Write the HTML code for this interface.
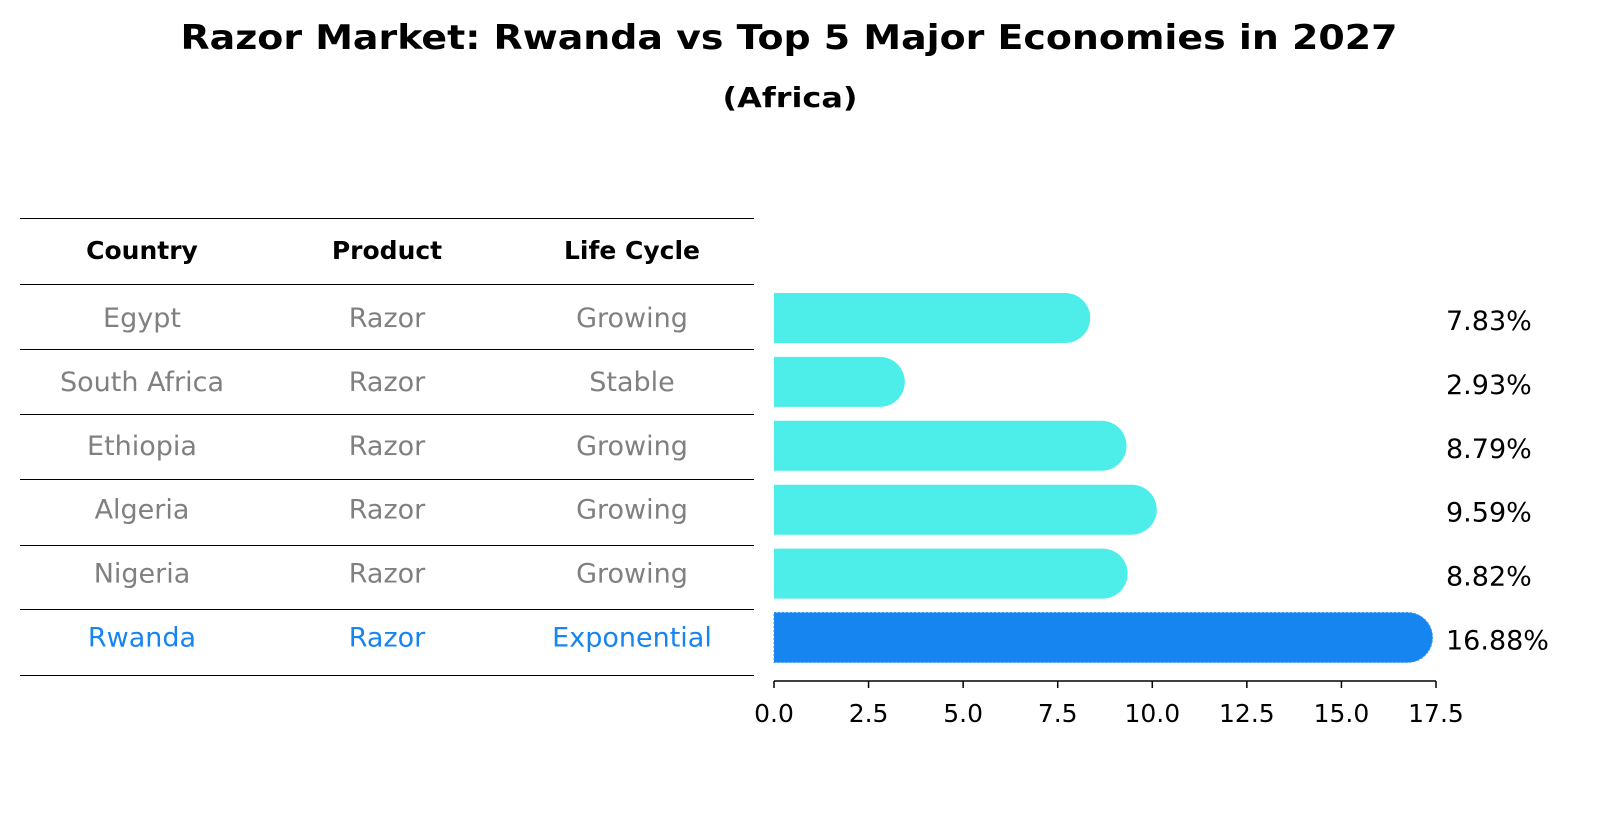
<!DOCTYPE html>
<html><head><meta charset="utf-8"><style>
body{margin:0;background:#fff;}
svg{display:block;font-family:"DejaVu Sans","Liberation Sans",sans-serif;}
</style></head><body>
<svg id="chart" width="1604" height="823" viewBox="0 0 1604 823">
<text x="789" y="49" text-anchor="middle" font-size="34" font-weight="bold" textLength="1217" lengthAdjust="spacingAndGlyphs">Razor Market: Rwanda vs Top 5 Major Economies in 2027</text>
<text x="790" y="107" text-anchor="middle" font-size="28" font-weight="bold" textLength="135" lengthAdjust="spacingAndGlyphs">(Africa)</text>
<g id="table"></g>
<g id="bars"></g>
<g id="axis"></g>
</svg>
<script>
const countries=["Egypt","South Africa","Ethiopia","Algeria","Nigeria","Rwanda"];
const products=["Razor","Razor","Razor","Razor","Razor","Razor"];
const lifeCycles=["Growing","Stable","Growing","Growing","Growing","Exponential"];
const values=[7.83,2.93,8.79,9.59,8.82,16.88];
const ticks=[0,2.5,5,7.5,10,12.5,15,17.5];
const NS="http://www.w3.org/2000/svg";
function mk(tag,attrs,parent,text){const e=document.createElementNS(NS,tag);for(const k in attrs)e.setAttribute(k,attrs[k]);if(text!==undefined)e.textContent=text;parent.appendChild(e);return e;}
const x0=774,pxPer=(1436-774)/17.5;
const xs=v=>x0+v*pxPer;
const rowY=i=>318+i*63.9;
const tbl=document.getElementById('table'),bars=document.getElementById('bars'),axis=document.getElementById('axis');
const lines=[218,284,349,414,479,545,609,675];
lines.forEach((y,i)=>{const l=mk('line',{x1:20,x2:754,y1:y+0.5,y2:y+0.5,stroke:'#000','stroke-width':1,'shape-rendering':'crispEdges'},tbl);

});
const colX=[142,387,632];
["Country","Product","Life Cycle"].forEach((h,j)=>{const t=mk('text',{x:colX[j],y:259,'text-anchor':'middle','font-size':25,'font-weight':'bold'},tbl,h);

});
countries.forEach((c,i)=>{
 const last=i===countries.length-1;const col=last?'#1685f0':'#808080';const y=rowY(i)+6;
 [c,products[i],lifeCycles[i]].forEach((s,j)=>{const t=mk('text',{x:colX[j],y:y+3,'text-anchor':'middle','font-size':27,fill:col},tbl,s);
 
 });
 const h=50,r=25,cy=rowY(i),xe=xs(values[i]);
 const p=mk('path',{d:`M${x0},${cy-h/2} H${xe-5} A${r},${r} 0 0 1 ${xe-5},${cy+h/2} H${x0} Z`,fill:last?'#1685f0':'#4deeea',stroke:last?'#3a9cf5':'none','stroke-dasharray':last?'2 2':'none'},bars);
 
 
 const t=mk('text',{x:1446,y:cy+12,'font-size':27},bars,values[i].toFixed(2)+'%');
 
 
});
const al=mk('line',{x1:x0,x2:1436,y1:681,y2:681,stroke:'#000','stroke-width':1.5},axis);


ticks.forEach(v=>{const tl=mk('line',{x1:xs(v),x2:xs(v),y1:681,y2:688,stroke:'#000','stroke-width':1.5},axis);


const t=mk('text',{x:xs(v),y:722,'text-anchor':'middle','font-size':25},axis,v.toFixed(1));

});
</script>
</body></html>
